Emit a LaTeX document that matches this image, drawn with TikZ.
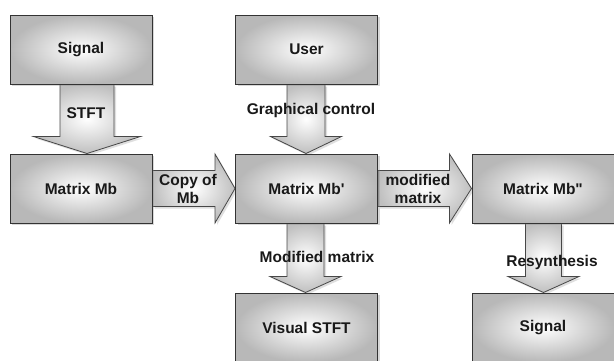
\documentclass[tikz,border=0pt]{standalone}
\usepackage{fontspec}
\newfontfamily\labfont{Liberation Sans}
\usetikzlibrary{shadows,calc,backgrounds}

% vertical block arrow: from node, to node, x centre, shaft half width, head half width, head length
\newcommand\varrow[6]{%
  \path[blockarrow] let \p1=(#1.south), \p2=(#2.north) in
    ({(#3-#4)*1pt},\y1) -- ({(#3+#4)*1pt},\y1) -- ({(#3+#4)*1pt},{\y2+#6pt})
    -- ({(#3+#5)*1pt},{\y2+#6pt}) -- ({#3*1pt},\y2) -- ({(#3-#5)*1pt},{\y2+#6pt})
    -- ({(#3-#4)*1pt},{\y2+#6pt}) -- cycle;}
% horizontal block arrow: from node, to node, y centre, shaft half width, head half width, head length
\newcommand\harrow[6]{%
  \path[blockarrow] let \p1=(#1.east), \p2=(#2.west) in
    (\x1,{-(#3-#4)*1pt}) -- ({\x2-#6pt},{-(#3-#4)*1pt}) -- ({\x2-#6pt},{-(#3-#5)*1pt})
    -- (\x2,{-#3*1pt}) -- ({\x2-#6pt},{-(#3+#5)*1pt}) -- ({\x2-#6pt},{-(#3+#4)*1pt})
    -- (\x1,{-(#3+#4)*1pt}) -- cycle;}

\begin{document}
\begin{tikzpicture}[x=1pt,y=-1pt,
  labtext/.style={font=\labfont\bfseries\fontsize{15.5}{17.5}\selectfont, text=black!90},
  box/.style={labtext, draw=black!80, line width=1pt, inner color=white, outer color=black!28,
    minimum width=142pt, minimum height=69pt, inner sep=0pt,
    drop shadow={shadow xshift=2pt, shadow yshift=-2pt, opacity=0.3}},
  blockarrow/.style={draw=black!72, line width=0.8pt, inner color=white, outer color=black!25,
    drop shadow={shadow xshift=2pt, shadow yshift=-2pt, opacity=0.25}},
  lab/.style={labtext, inner sep=0pt, align=center}]
\useasboundingbox (0,0) rectangle (614,360);

\node[box] (sig)   at (81,49.5)    {Signal};
\node[box] (user)  at (306.5,49.5) {User};
\node[box] (mb)    at (81,188.5)   {Matrix Mb};
\node[box] (mbp)   at (306.5,188.5) {Matrix Mb'};
\node[box] (mbpp)  at (543,188.5)  {Matrix Mb"};
\node[box] (vis)   at (306.5,327.5) {Visual STFT};
\node[box] (sigout) at (543,327.5) {Signal};

\begin{pgfonlayer}{background}
  \fill[white] (0,0) rectangle (614,360);
  \varrow{sig}{mb}{87}{27}{53.5}{17}
  \varrow{user}{mbp}{306}{19}{35.5}{17}
  \varrow{mbp}{vis}{305.5}{18.5}{35.5}{16}
  \varrow{mbpp}{sigout}{543.5}{18}{35.5}{16}
  \harrow{mb}{mbp}{188.5}{18}{34.5}{20}
  \harrow{mbp}{mbpp}{188.5}{18}{34.5}{22}
\end{pgfonlayer}

\node[lab] (tstft) at (86,113) {STFT};
\node[lab] (tgraph) at (311,110) {Graphical control};
\node[lab] (tcopy) at (188,189) {Copy of\\Mb};
\node[lab] (tmod) at (418,189) {modified\\matrix};
\node[lab] (tmodm) at (317,257) {Modified matrix};
\node[lab] (tres) at (552,262) {Resynthesis};
\end{tikzpicture}
\end{document}
